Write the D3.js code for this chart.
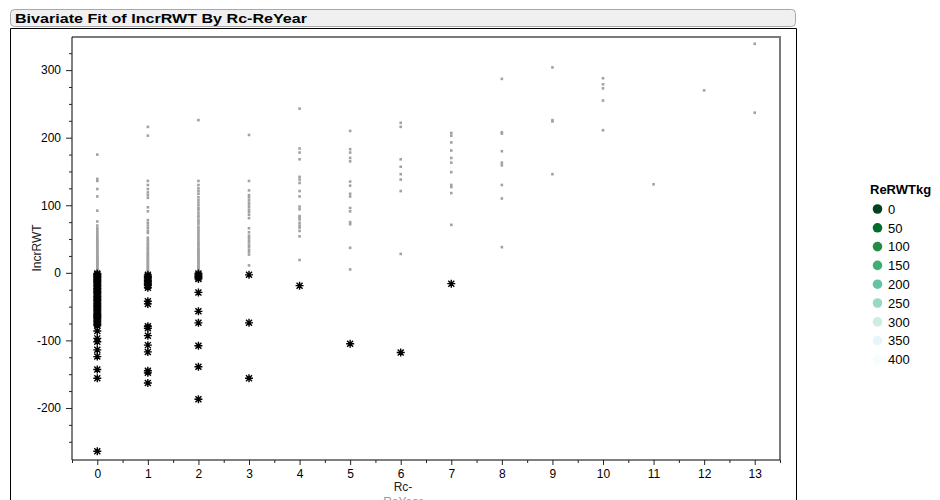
<!DOCTYPE html>
<html>
<head>
<meta charset="utf-8">
<script src="https://cdn.jsdelivr.net/npm/d3@7/dist/d3.min.js"></script>
<style>
  html, body { margin: 0; padding: 0; background: #fff; }
  svg { display: block; font-family: "Liberation Sans", Arial, sans-serif; }
</style>
</head>
<body>
<svg id="chart" width="940" height="500"></svg>
<script>
// Rc-ReYear categories and the IncrRWT observations recorded at each one
const rcReYear = [0, 1, 2, 3, 4, 5, 6, 7, 8, 9, 10, 11, 12, 13];

const incrYear0 = [1, 2, 3, 5, 6, 7, 9, 10, 12, 13, 14, 16, 17, 19, 20, 22, 23, 25, 26, 28, 29, 31, 33, 34, 36, 38, 39, 41, 43, 45, 47, 49, 51, 53, 56, 58, 61, 64, 66, 70, 76, 92, 113, 124, 136, 139, 175,
  -1, -2, -4, -5, -7, -8, -10, -11, -13, -14, -16, -18, -19, -21, -23, -24, -26, -28, -29, -31, -33, -35, -36, -38, -40, -41, -43, -45, -47, -49, -50, -52, -54, -56, -58, -60, -62, -63, -65, -66, -68, -70, -72, -74, -76, -78,
  -86, -97, -102, -114, -124, -143, -156, -264];
const incrYear1 = [2, 4, 5, 7, 9, 11, 13, 15, 17, 19, 21, 23, 25, 27, 29, 31, 34, 36, 38, 41, 43, 46, 49, 52, 59, 62, 66, 70, 74, 78, 91, 97, 111, 115, 119, 124, 130, 136, 203, 216,
  -3, -5, -7, -9, -11, -13, -15, -17, -19, -22, -42, -46, -79, -82, -93, -107, -117, -145, -148, -163];
const incrYear2 = [3, 5, 7, 9, 11, 13, 15, 17, 19, 21, 23, 25, 27, 29, 31, 33, 35, 37, 40, 42, 44, 47, 50, 53, 56, 59, 62, 65, 68, 72, 75, 78, 82, 85, 89, 93, 96, 100, 104, 108, 112, 117, 121, 125, 130, 136, 226,
  -1, -3, -5, -7, -9, -29, -57, -74, -108, -139, -187];
const incrYear3 = [11, 27, 31, 34, 38, 41, 45, 48, 52, 55, 60, 66, 81, 86, 90, 93, 97, 101, 104, 108, 112, 115, 122, 136, 204,
  -3, -74, -156];
const incrYear4 = [19, 54, 62, 67, 70, 74, 79, 82, 84, 94, 98, 113, 121, 133, 138, 142, 168, 178, 184, 243, -19];
const incrYear5 = [5, 37, 72, 75, 91, 96, 113, 117, 129, 135, 165, 170, 178, 183, 210, -105];
const incrYear6 = [28, 121, 138, 146, 157, 168, 216, 222, -118];
const incrYear7 = [71, 118, 127, 130, 149, 163, 170, 181, 193, 203, 207, -16];
const incrYear8 = [38, 110, 130, 159, 163, 180, 206, 208, 287];
const incrYear9 = [146, 224, 226, 304];
const incrYear10 = [211, 255, 273, 279, 288];
const incrYear11 = [131];
const incrYear12 = [270];
const incrYear13 = [237, 339];

// Axis ticks
const xTicks = [0, 1, 2, 3, 4, 5, 6, 7, 8, 9, 10, 11, 12, 13];
const xMinorTicks = [-0.5, 0.5, 1.5, 2.5, 3.5, 4.5, 5.5, 6.5, 7.5, 8.5, 9.5, 10.5, 11.5, 12.5, 13.5];
const yTicks = [-200, -100, 0, 100, 200, 300];
const yMinorTicks = [-250, -225, -175, -150, -125, -75, -50, -25, 25, 50, 75, 125, 150, 175, 225, 250, 275, 325];

// Legend entries
const legendLabels = ["0", "50", "100", "150", "200", "250", "300", "350", "400"];

const incrByYear = [incrYear0, incrYear1, incrYear2, incrYear3, incrYear4, incrYear5, incrYear6,
  incrYear7, incrYear8, incrYear9, incrYear10, incrYear11, incrYear12, incrYear13];
const points = [];
rcReYear.forEach((yr, i) => incrByYear[i].forEach(v => points.push({ x: yr, y: v })));

const svg = d3.select("#chart");

// Report panel: title bar and outline
svg.append("rect")
  .attr("x", 10.5).attr("y", 9.5).attr("width", 785).attr("height", 17).attr("rx", 4)
  .attr("fill", "#f0f0f0").attr("stroke", "#a8a8a8");
svg.append("text")
  .attr("x", 15).attr("y", 22.5)
  .attr("font-size", 13.5).attr("font-weight", "bold").attr("fill", "#000")
  .attr("textLength", 292).attr("lengthAdjust", "spacingAndGlyphs")
  .text("Bivariate Fit of IncrRWT By Rc-ReYear");
svg.append("path")
  .attr("d", "M10.5,502 V28.5 H796.5 V502")
  .attr("fill", "none").attr("stroke", "#000");

const plotLeft = 72, plotRight = 780, plotTop = 37, plotBottom = 460;
const x = d3.scaleLinear().domain([-0.5, 13.5]).range([plotLeft, plotRight]);
const y = d3.scaleLinear().domain([-277, 349]).range([plotBottom, plotTop]);

// Frame: top and right sides in gray
svg.append("path")
  .attr("d", `M${plotLeft},${plotTop} H${plotRight} V${plotBottom}`)
  .attr("fill", "none").attr("stroke", "#7a7a7a").attr("stroke-width", 2);

// Points: positive changes as small gray squares
const plot = svg.append("g");
plot.selectAll("rect.pt")
  .data(points.filter(d => d.y >= 0))
  .join("rect")
  .attr("class", "pt")
  .attr("x", d => x(d.x) - 1.3).attr("y", d => y(d.y) - 1.3)
  .attr("width", 2.6).attr("height", 2.6)
  .attr("fill", "#a2a2a2");

// Negative changes as black asterisks
const star = "M-4,0H4M0,-4V4M-3,-3L3,3M-3,3L3,-3";
plot.selectAll("path.neg")
  .data(points.filter(d => d.y < 0))
  .join("path")
  .attr("class", "neg")
  .attr("transform", d => `translate(${x(d.x)},${y(d.y)})`)
  .attr("d", star)
  .attr("fill", "none").attr("stroke", "#000").attr("stroke-width", 1.4);

// Y axis
const fmt = d => String(d);
const yAxis = svg.append("g").attr("transform", `translate(${plotLeft},0)`)
  .call(d3.axisLeft(y).tickValues(yTicks).tickFormat(fmt).tickSize(6).tickPadding(5).tickSizeOuter(0));
svg.append("g").attr("transform", `translate(${plotLeft},0)`)
  .call(d3.axisLeft(y).tickValues(yMinorTicks).tickSize(3).tickFormat("").tickSizeOuter(0))
  .select(".domain").remove();

// X axis
const xAxis = svg.append("g").attr("transform", `translate(0,${plotBottom})`)
  .call(d3.axisBottom(x).tickValues(xTicks).tickFormat(fmt).tickSize(5).tickPadding(4).tickSizeOuter(0));
svg.append("g").attr("transform", `translate(0,${plotBottom})`)
  .call(d3.axisBottom(x).tickValues(xMinorTicks).tickSize(3).tickFormat("").tickSizeOuter(0))
  .select(".domain").remove();

svg.selectAll(".tick text").attr("font-size", 12).attr("font-family", "'Liberation Sans', Arial, sans-serif").attr("fill", "#000");
svg.selectAll(".tick line").attr("stroke", "#222");
yAxis.select(".domain").attr("d", `M0,${plotTop}V${plotBottom}`).attr("stroke", "#000");
xAxis.select(".domain").attr("d", `M${plotLeft},0H${plotRight}`).attr("stroke", "#000");

// Axis titles
svg.append("text")
  .attr("transform", "translate(41,248) rotate(-90)")
  .attr("text-anchor", "middle").attr("font-size", 12).attr("fill", "#222")
  .text("IncrRWT");
svg.append("text")
  .attr("x", 403).attr("y", 491)
  .attr("text-anchor", "middle").attr("font-size", 12).attr("fill", "#222")
  .text("Rc-");
svg.append("text")
  .attr("x", 403).attr("y", 506)
  .attr("text-anchor", "middle").attr("font-size", 12).attr("fill", "#999")
  .text("ReYear");

// Legend for ReRWTkg
const legendColors = d3.schemeBuGn[9].slice().reverse();
const legend = svg.append("g").attr("transform", "translate(870,0)");
legend.append("text")
  .attr("x", 0).attr("y", 194)
  .attr("font-size", 13).attr("font-weight", "bold").attr("fill", "#000")
  .text("ReRWTkg");
const items = legend.selectAll("g.item")
  .data(legendLabels)
  .join("g")
  .attr("class", "item")
  .attr("transform", (d, i) => `translate(0,${209 + i * 18.8})`);
items.append("circle")
  .attr("cx", 7.5).attr("cy", 0).attr("r", 4.8)
  .attr("fill", (d, i) => legendColors[i]);
items.append("text")
  .attr("x", 18).attr("y", 4.8)
  .attr("font-size", 13).attr("fill", "#000")
  .text(d => d);
</script>
</body>
</html>
